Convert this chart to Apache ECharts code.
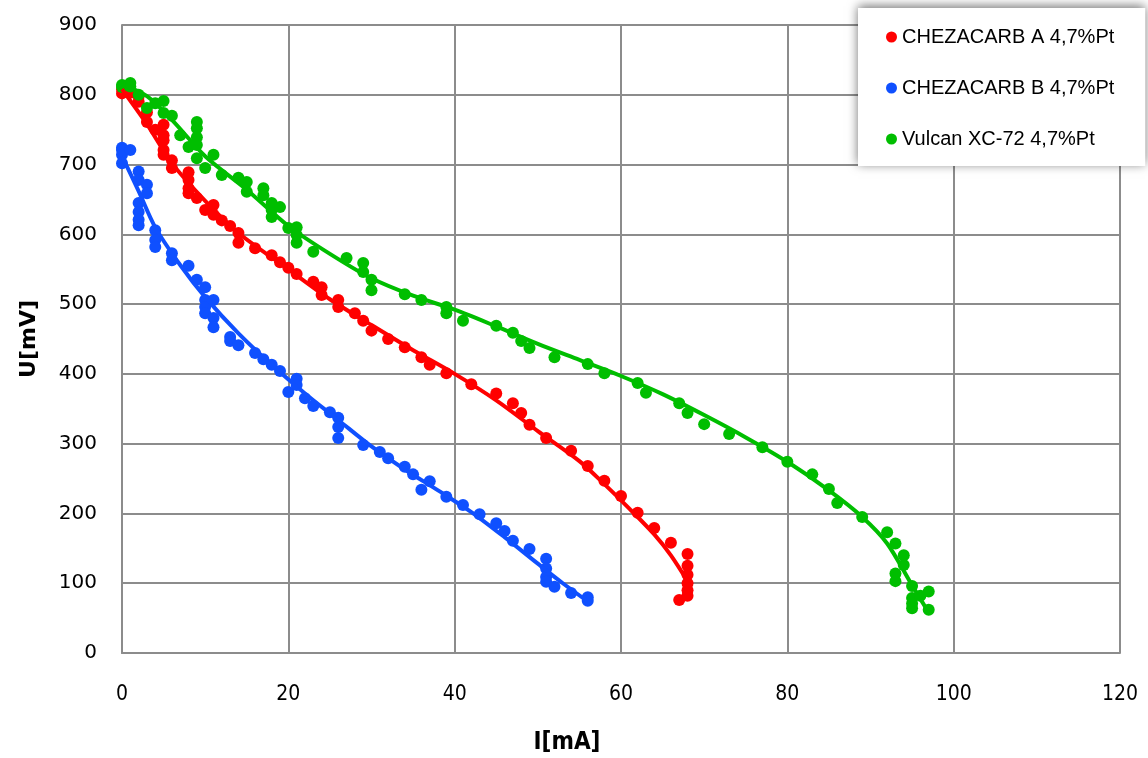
<!DOCTYPE html>
<html>
<head>
<meta charset="utf-8">
<script src="https://cdn.jsdelivr.net/npm/echarts@6/dist/echarts.min.js"></script>
<style>
  html, body { margin: 0; padding: 0; background: #fff; }
  #chart { width: 1148px; height: 758px; }
</style>
</head>
<body>
<div id="chart"></div>
<script>
// series names
const names = ['CHEZACARB A 4,7%Pt', 'CHEZACARB B 4,7%Pt', 'Vulcan XC-72 4,7%Pt'];
const colors = ['#ff0000', '#0f50ff', '#00be00'];

// measured points [I mA, U mV]
const chezA = [[0,802],[0,808],[1,803],[2,798],[2,790],[3,775],[3,761],[4,750],[5,757],[5,742],[5,735],[5,721],[5,714],[6,706],[6,695],[8,689],[8,678],[8,666],[8,659],[9,652],[10,635],[11,642],[11,628],[12,620],[13,612],[14,602],[14,588],[16,580],[18,570],[19,560],[20,552],[21,543],[23,532],[24,524],[24,513],[26,506],[26,496],[28,487],[29,476],[30,462],[32,450],[34,438],[36,424],[37,413],[39,401],[42,385],[45,372],[47,358],[48,344],[49,327],[51,308],[54,290],[56,268],[58,247],[60,225],[62,201],[64,179],[66,158],[68,142],[68,125],[68,112],[68,100],[68,90],[68,82],[67,76]];
const chezB = [[0,724],[0,721],[0,714],[0,702],[1,721],[2,690],[2,678],[2,645],[2,632],[2,621],[2,613],[3,671],[3,659],[4,606],[4,592],[4,582],[6,573],[6,563],[8,555],[9,535],[10,524],[10,506],[10,496],[10,487],[11,506],[11,480],[11,467],[13,453],[13,447],[14,441],[16,430],[17,421],[18,413],[19,404],[20,374],[21,393],[21,384],[22,365],[23,354],[25,345],[26,337],[26,324],[26,308],[29,298],[31,288],[32,279],[34,267],[35,256],[36,234],[37,246],[39,224],[41,212],[43,199],[45,186],[46,175],[47,161],[49,149],[51,135],[51,121],[51,109],[51,102],[52,95],[54,86],[56,80],[56,75]];
const vulcan = [[0,814],[0,811],[1,817],[1,812],[2,800],[3,781],[4,788],[5,791],[5,774],[6,770],[7,742],[8,725],[9,761],[9,752],[9,739],[9,728],[9,709],[10,695],[11,714],[12,685],[14,681],[15,675],[15,661],[17,666],[17,656],[18,645],[18,635],[18,625],[19,639],[20,609],[21,610],[21,599],[21,588],[23,575],[27,566],[29,559],[29,546],[30,535],[30,520],[34,514],[36,506],[39,496],[39,487],[41,476],[45,469],[47,459],[48,447],[49,437],[52,424],[56,414],[58,401],[62,387],[63,373],[67,358],[68,344],[70,328],[73,314],[77,295],[80,274],[83,256],[85,235],[86,215],[89,195],[92,173],[93,157],[94,140],[94,126],[93,114],[93,103],[95,96],[95,79],[95,71],[95,64],[96,82],[97,88],[97,62]];

// trend lines
const trendA = [[0,808],[3,758],[6,702],[10,648],[14,602],[20,550],[25,507],[30,470],[35,434],[40,400],[45,362],[50,318],[55,275],[58,242],[61,207],[64,170],[66,140],[68,103]];
const trendB = [[0,712],[2,662],[4,610],[7,556],[10,510],[14,458],[18,413],[22,372],[26,334],[30,296],[34,263],[38,233],[42,202],[46,166],[50,128],[53,100],[56,74]];
const trendV = [[0,815],[3,798],[6,764],[10,712],[15,664],[20,612],[25,572],[30,537],[35,512],[40,492],[45,468],[50,443],[55,420],[60,397],[65,371],[70,341],[75,309],[80,274],[85,233],[89,195],[92,157],[95,97],[97,58]];

// axis ticks
const xTicks = [0, 20, 40, 60, 80, 100, 120];
const yTicks = [0, 100, 200, 300, 400, 500, 600, 700, 800, 900];

const points = [chezA, chezB, vulcan];
const trends = [trendA, trendB, trendV];

var series = [];
points.forEach(function (d, i) {
  series.push({
    name: names[i],
    type: 'scatter',
    data: d,
    symbolSize: 12,
    itemStyle: { color: colors[i], opacity: 1 },
    z: 2
  });
});
trends.forEach(function (d, i) {
  series.push({
    name: names[i] + ' trend',
    type: 'line',
    data: d,
    smooth: 0.3,
    showSymbol: false,
    lineStyle: { color: colors[i], width: 4 },
    itemStyle: { color: colors[i] },
    z: 3,
    silent: true
  });
});

var gridLine = { show: true, lineStyle: { color: '#8c8c8c', width: 2 } };
var narrow = "'Liberation Sans Narrow', 'DejaVu Sans Condensed', sans-serif";

var myChart = echarts.init(document.getElementById('chart'));
myChart.setOption({
  backgroundColor: '#fff',
  animation: false,
  grid: { left: 122, right: 28, top: 25, bottom: 105, containLabel: false, outerBoundsMode: 'none' },
  legend: {
    data: names,
    orient: 'vertical',
    left: 858,
    top: 8,
    padding: [19, 31, 17, 28],
    itemGap: 31,
    itemWidth: 11,
    itemHeight: 11,
    icon: 'circle',
    backgroundColor: '#fff',
    shadowBlur: 10,
    shadowColor: 'rgba(0,0,0,0.55)',
    shadowOffsetY: -2,
    textStyle: { fontFamily: "'Liberation Sans', Arial, sans-serif", fontSize: 20, color: '#000' },
    z: 10
  },
  xAxis: {
    type: 'value',
    min: xTicks[0],
    max: xTicks[xTicks.length - 1],
    interval: 20,
    name: 'I[mA]',
    nameLocation: 'middle',
    nameGap: 78,
    nameTextStyle: {
      fontFamily: narrow,
      fontWeight: 'bold', fontSize: 24, color: '#000',
      padding: [0, 108, 0, 0]
    },
    axisLine: { show: true, lineStyle: { color: '#8c8c8c', width: 2 } },
    axisTick: { show: false },
    splitLine: gridLine,
    axisLabel: {
      margin: 31,
      fontFamily: narrow,
      fontSize: 21, color: '#000'
    }
  },
  yAxis: {
    type: 'value',
    min: yTicks[0],
    max: yTicks[yTicks.length - 1],
    interval: 100,
    name: 'U[mV]',
    nameLocation: 'middle',
    nameGap: 82,
    nameRotate: 90,
    nameTextStyle: {
      fontFamily: "'DejaVu Sans', sans-serif",
      fontWeight: 'bold', fontSize: 22, color: '#000'
    },
    axisLine: { show: true, lineStyle: { color: '#8c8c8c', width: 2 } },
    axisTick: { show: false },
    splitLine: gridLine,
    axisLabel: {
      margin: 25,
      fontFamily: "'DejaVu Sans', sans-serif",
      fontSize: 20, color: '#000'
    }
  },
  series: series
});
</script>
</body>
</html>
